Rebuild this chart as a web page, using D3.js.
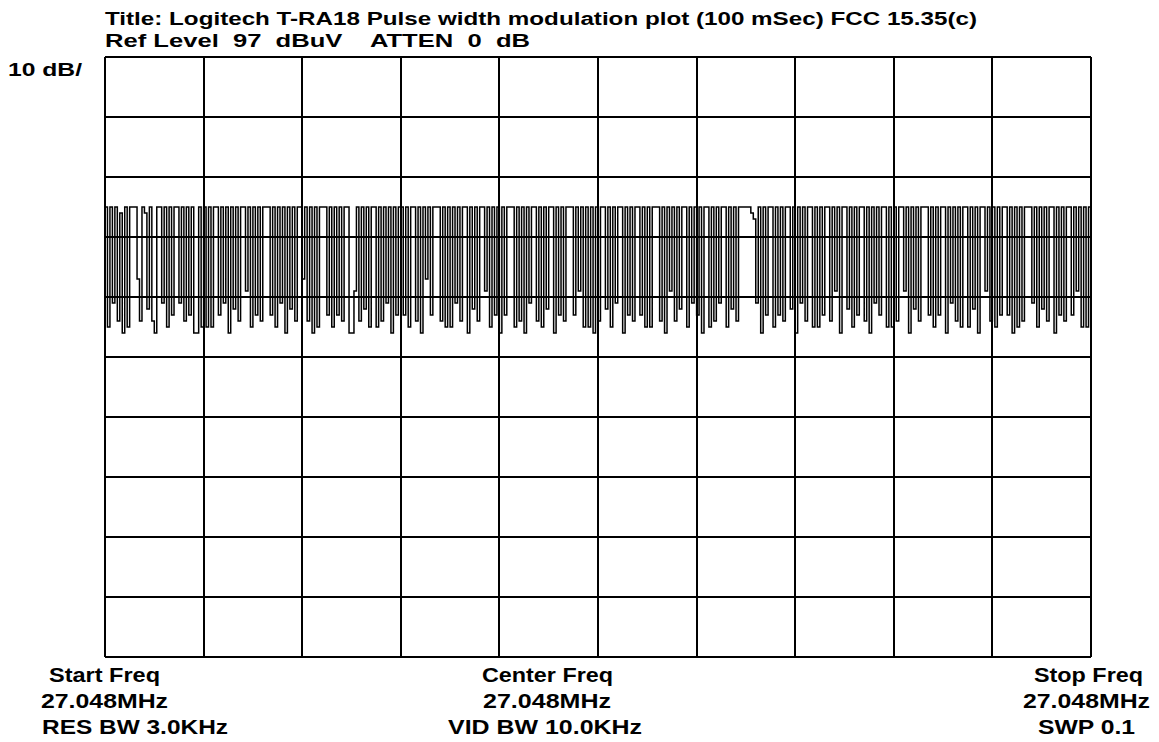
<!DOCTYPE html>
<html>
<head>
<meta charset="utf-8">
<script src="https://cdn.jsdelivr.net/npm/d3@7"></script>
<style>
html,body{margin:0;padding:0;background:#fff;}
svg{display:block;}
text{font-family:"Liberation Sans",Arial,sans-serif;font-weight:bold;fill:#000;}
</style>
</head>
<body>
<svg id="chart" width="1159" height="742"></svg>
<script>
// ---- data ----
const titleLine = "Title: Logitech T-RA18 Pulse width modulation plot (100 mSec) FCC 15.35(c)";
const refLine = "Ref Level  97  dBuV    ATTEN  0  dB";
const scaleLabel = "10 dB/";
const refLevel = 97;          // dBuV, top of grid
const dbPerDiv = 10;
const divisions = 10;
const startLabels = ["Start Freq", "27.048MHz", "RES BW 3.0KHz"];
const centerLabels = ["Center Freq", "27.048MHz", "VID BW 10.0KHz"];
const stopLabels = ["Stop Freq", "27.048MHz", "SWP 0.1"];

// trace amplitude (dBuV), 401 sweep points
const trace = [
72,52,72,56,72,53,71,51,72,52,72,72,72,60,53,72,71,55,72,53,51,72,72,56,72,52,72,54,72,72,56,72,53,72,54,72,51,51,72,52,
72,52,72,52,72,72,54,72,56,72,51,72,55,72,53,72,72,58,72,52,72,54,72,53,72,72,72,54,72,52,72,56,72,51,72,55,72,53,72,72,
60,72,53,72,51,72,52,72,72,72,54,72,52,72,54,72,53,72,72,51,51,58,72,53,72,55,72,52,72,72,52,72,53,72,56,72,51,72,54,72,
72,54,72,52,72,72,53,72,51,72,60,72,54,72,72,72,53,72,52,72,52,72,56,72,53,72,72,51,72,55,72,53,72,72,58,72,52,72,54,72,
51,72,54,72,72,72,52,72,53,72,51,72,56,72,72,53,72,52,72,55,72,72,51,72,54,72,53,72,72,72,54,72,58,72,52,72,52,72,51,72,
53,72,72,55,72,52,72,56,72,72,51,72,54,72,53,72,72,54,72,52,72,52,72,72,72,53,72,51,72,58,72,53,72,55,72,72,52,72,56,72,
54,72,51,72,72,52,72,53,72,56,72,72,52,72,55,72,53,72,72,72,72,72,71,70,56,72,51,72,54,72,72,52,72,54,72,53,72,72,55,72,
51,72,56,72,53,72,72,52,72,52,72,54,72,72,53,72,58,72,51,72,72,55,72,52,72,54,72,72,53,72,51,72,56,72,54,72,72,52,72,52,
72,53,72,72,58,72,51,72,55,72,53,72,72,72,54,72,52,72,54,72,72,51,72,56,72,53,72,52,72,72,52,72,55,72,51,72,72,58,72,53,
72,52,72,54,72,72,54,72,51,72,52,72,53,72,72,72,56,72,52,72,55,72,53,72,72,51,72,54,72,53,72,72,54,72,58,72,52,72,52,72,72
];

// ---- layout ----
const svg = d3.select("#chart");
const plotLeft = 105, plotRight = 1091, plotTop = 57, plotBottom = 657;

const x = d3.scaleLinear().domain([0, trace.length - 1]).range([plotLeft, plotRight]);
const y = d3.scaleLinear().domain([refLevel - dbPerDiv * divisions, refLevel]).range([plotBottom, plotTop]);
const gx = d3.scaleLinear().domain([0, divisions]).range([plotLeft, plotRight]);

// grid
const grid = svg.append("g").attr("stroke", "#000").attr("stroke-width", 2).attr("shape-rendering", "crispEdges");
grid.selectAll("line.v").data(d3.range(divisions + 1)).join("line")
  .attr("class", "v")
  .attr("x1", d => Math.round(gx(d))).attr("x2", d => Math.round(gx(d)))
  .attr("y1", plotTop).attr("y2", plotBottom);
grid.selectAll("line.h").data(d3.range(divisions + 1)).join("line")
  .attr("class", "h")
  .attr("x1", plotLeft).attr("x2", plotRight)
  .attr("y1", d => Math.round(y(refLevel - d * dbPerDiv))).attr("y2", d => Math.round(y(refLevel - d * dbPerDiv)));

// trace
const line = d3.line().x((d, i) => x(i)).y(d => y(d)).curve(d3.curveStepAfter);
svg.append("path").datum(trace)
  .attr("d", line).attr("fill", "none").attr("stroke", "#000").attr("stroke-width", 1.5);

// header text
svg.append("text").attr("x", 105).attr("y", 25).attr("font-size", 18)
  .attr("textLength", 872).attr("lengthAdjust", "spacingAndGlyphs").text(titleLine);
svg.append("text").attr("x", 105).attr("y", 47).attr("font-size", 18)
  .attr("textLength", 425).attr("lengthAdjust", "spacingAndGlyphs").style("white-space", "pre").text(refLine);
svg.append("text").attr("x", 8).attr("y", 76).attr("font-size", 19)
  .attr("textLength", 74).attr("lengthAdjust", "spacingAndGlyphs").text(scaleLabel);

// footer text
const rows = [682, 708, 734];
const footer = [
  {labels: startLabels, xs: [49, 41, 42], ws: [111, 127, 186]},
  {labels: centerLabels, xs: [482, 483, 448], ws: [131, 128, 194]},
  {labels: stopLabels, xs: [1034, 1023, 1038], ws: [109, 127, 97]}
];
footer.forEach(f => {
  f.labels.forEach((t, i) => {
    svg.append("text").attr("x", f.xs[i]).attr("y", rows[i]).attr("font-size", 20)
      .attr("textLength", f.ws[i]).attr("lengthAdjust", "spacingAndGlyphs").text(t);
  });
});
</script>
</body>
</html>
